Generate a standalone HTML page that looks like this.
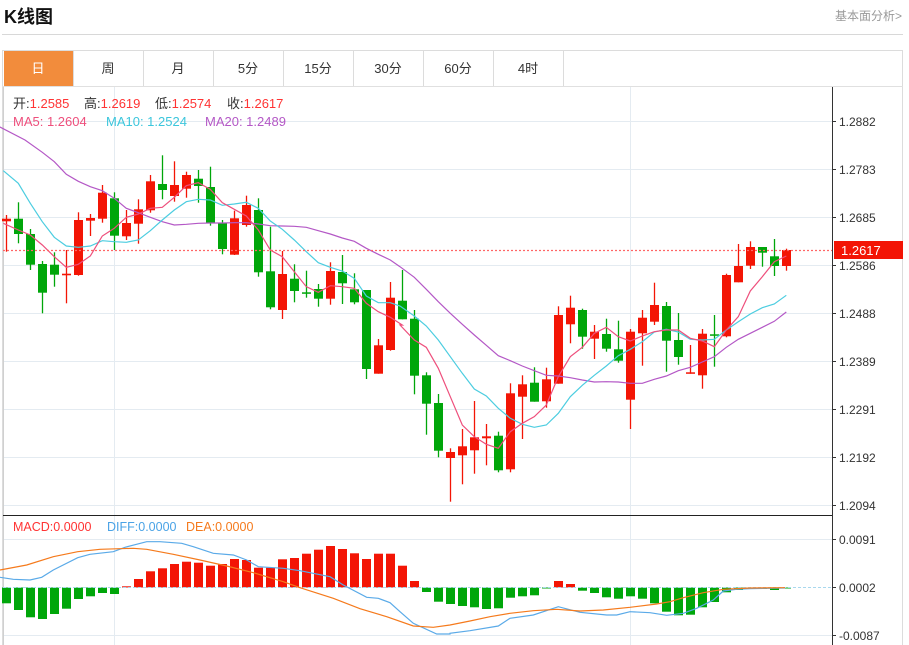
<!DOCTYPE html>
<html><head><meta charset="utf-8">
<style>
body{margin:0;background:#fff;width:909px;height:645px;overflow:hidden;font-family:"Liberation Sans","Noto Sans CJK SC",sans-serif;}
.t{position:absolute;white-space:nowrap}
</style></head><body>
<div class="t" style="left:4px;top:3px;font-size:18px;font-weight:bold;color:#111">K线图</div>
<div class="t" style="left:835px;top:7px;font-size:12px;color:#999">基本面分析&gt;</div>
<div style="position:absolute;left:2px;top:34px;width:901px;height:1px;background:#d8d8d8"></div>
<svg id="s" width="909" height="645" style="position:absolute;left:0;top:0" xmlns="http://www.w3.org/2000/svg" font-family="Liberation Sans, Noto Sans CJK SC, sans-serif"></svg>
<script>
var s=document.getElementById('s'),h='';
function L(x1,y1,x2,y2,c,w,d){h+='<line x1="'+x1+'" y1="'+y1+'" x2="'+x2+'" y2="'+y2+'" stroke="'+c+'" stroke-width="'+(w||1)+'"'+(d?' stroke-dasharray="'+d+'"':'')+'/>';}
function R(x,y,w,hh,c){h+='<rect x="'+x+'" y="'+y+'" width="'+w+'" height="'+hh+'" fill="'+c+'"/>';}
function T(x,y,t,c,sz,a){h+='<text x="'+x+'" y="'+y+'" fill="'+c+'" font-size="'+(sz||13)+'"'+(a?' text-anchor="'+a+'"':'')+'>'+t+'</text>';}
// panel border
h+='<rect x="2.5" y="50.5" width="900" height="600" fill="none" stroke="#dcdcdc"/>';
// tabs
var tabs=['日','周','月','5分','15分','30分','60分','4时'];
L(2,86.5,903,86.5,'#e0e0e0');
for(var i=0;i<8;i++){var x=3+70*i;if(i==0)R(4,51,69,35,'#f28c3c');L(x+70.5,50,x+70.5,86,'#dcdcdc');T(x+35,73,tabs[i],i==0?'#fff':'#333',13,'middle');}
// grid
var gy=[121,169,217,265,313,361,409,457,505];
gy.forEach(function(y){L(3,y+.5,832,y+.5,'#e4ebf1');});
[539,635].forEach(function(y){L(3,y+.5,832,y+.5,'#e4ebf1');});
L(114.5,87,114.5,645,'#e4ebf1');L(630.5,87,630.5,645,'#e4ebf1');
L(3.5,87,3.5,645,'#d0d0d0');
// axes
L(832.5,87,832.5,645,'#333');L(3,515.5,832,515.5,'#222');
var gl=['1.2882','1.2783','1.2685','1.2586','1.2488','1.2389','1.2291','1.2192','1.2094'];
gy.forEach(function(y,i){L(832,y+.5,836,y+.5,'#333');T(839,y+5,gl[i],'#333',12);});
[[539,'0.0091'],[587,'0.0002'],[635,'-0.0087']].forEach(function(a){L(832,a[0]+.5,836,a[0]+.5,'#333');T(839,a[0]+5,a[1],'#333',12);});
// candles [color, bodyTop, bodyBot, wickTop, wickBot]
var C=[['r',218.7,221.3,215,251.7],['g',218.7,234,202.3,243.3],['g',234,264.7,229,270],['g',264,292.7,261,313.3],['g',264.7,274.7,252.3,286.7],['r',273.7,275.3,250,303.3],['r',220,275,212.3,275.7],['r',218,220.7,214,236],['r',192.7,218.7,185,222.7],['g',198.3,235.7,192.3,250],['r',223,236.3,210,240],['r',209.3,223.7,199.3,243.7],['r',181.3,210.3,175,212.7],['g',184,190,155.3,199.3],['r',185,196,161.3,201.7],['r',175,188.7,171.7,197.7],['g',178.7,186,170,202.7],['g',187,223,166.7,225.7],['g',223,249,220,254.3],['r',218.3,254.7,210.7,255],['r',205,225,195.7,226.7],['g',210,272.3,198.3,276.7],['g',271.3,307.3,226.7,309.3],['r',274,310,251,319],['g',278.7,291,264.3,302.3],['g',292.3,293.3,270.7,297.7],['g',289,298.7,284,306.7],['r',271,298.7,262.3,304.7],['g',272,283.3,255,304],['g',289.3,302.3,273.3,304.3],['g',290,369,290,379],['r',345.3,373.7,339,373.7],['r',297.7,350,282,350.7],['g',300.7,319.3,270,319.3],['g',318.7,375.7,310,394.3],['g',375.3,403.7,372.3,434.7],['g',403,450.7,394,457.3],['r',452,458,448.3,501.7],['r',446.3,455.3,429,484.3],['r',437.3,450.3,401,473.7],['r',436.3,438.3,424,465.3],['g',435.7,470.3,431.7,472.3],['r',393.3,469.3,383.3,472.3],['r',384.3,396.7,375.3,439],['g',382.7,401.7,367.3,401.7],['r',379.3,401.3,367.7,407.7],['r',315,383.7,306.3,383.7],['r',307.7,324.3,295.7,343.3],['g',310,336.7,308.7,348.7],['r',331.7,338.7,325,359],['g',334,348.7,318.7,351.7],['g',349.3,360.7,320.7,362.7],['r',331.7,399.7,329,429],['r',317.7,333.3,310,365.7],['r',305,321.7,282.7,325],['g',306,340.7,302,371.7],['g',340,357,313,364.7],['r',372.3,373.7,345,373.7],['r',333.7,375.3,329,388.7],['g',334.3,335.7,315,366.7],['r',275,336.3,273.7,337.3],['r',266,282.3,244,282.3],['r',247,265.7,241.3,269],['g',247,252.7,247,266.7],['g',256.3,266,239,276],['r',250,266,248.7,270.7]];
var RED='#f31505',GRN='#00a60a';
C.forEach(function(c,i){var x=6.5+12*i,col=c[0]=='r'?RED:GRN;L(x,c[3],x,c[4],col,1.3);R(x-4.5,c[1],9,Math.max(c[2]-c[1],1.5),col);});
// MA lines: zoom coords converted
function pts(a,ox,oy){return a.map(function(p){return (ox+p[0]/3).toFixed(1)+','+(oy+p[1]/3).toFixed(1);}).join(' ');}
function PL(p,c){h+='<polyline points="'+p+'" fill="none" stroke="'+c+'" stroke-width="1.2"/>';}
var m5a=[[10,250],[55,270],[91,285],[127,315],[163,350],[199,382],[235,373],[271,348],[307,288],[343,265],[379,232],[415,222],[451,205],[487,202],[523,172],[559,137],[595,128],[631,148],[667,188],[703,208],[739,228],[775,270],[811,330],[847,350],[883,395],[919,440],[955,457],[991,437],[1027,440],[1063,445],[1099,490],[1135,515],[1171,532],[1207,555]];
var m5b=[[0,285],[43,330],[79,352],[115,415],[151,500],[187,585],[223,620],[259,643],[295,655],[331,605],[367,580],[403,560],[439,525],[475,440],[511,380],[547,352],[583,310],[619,292],[655,320],[691,333],[727,318],[763,305],[799,300],[835,300],[871,325],[907,333],[943,350],[979,300],[1015,260],[1051,183],[1087,140],[1123,95],[1159,78]];
var m10a=[[10,92],[55,130],[91,190],[127,245],[163,292],[199,318],[235,322],[271,318],[307,302],[343,305],[379,307],[415,300],[451,272],[487,240],[523,210],[559,185],[595,178],[631,180],[667,196],[703,192],[739,187],[775,205],[811,243],[847,268],[883,300],[919,335],[955,368],[991,382],[1027,393],[1063,415],[1099,468],[1135,488],[1171,488]];
var m10b=[[0,228],[43,258],[79,288],[115,330],[151,380],[187,430],[223,477],[259,498],[295,535],[331,565],[367,583],[403,592],[439,585],[475,550],[511,500],[547,466],[583,436],[619,408],[655,377],[691,358],[727,335],[763,306],[799,298],[835,306],[871,328],[907,330],[943,328],[979,300],[1015,275],[1051,252],[1087,233],[1123,222],[1159,196]];
var m20a=[[-6,-42],[75,0],[127,37],[163,65],[199,103],[235,124],[271,140],[307,152],[343,175],[379,205],[415,218],[451,232],[487,245],[523,255],[559,253],[595,250],[631,249],[667,249],[703,248],[739,248],[775,252],[811,257],[847,258],[883,259],[919,262],[955,272],[991,282],[1027,294],[1063,304],[1099,325],[1135,343],[1171,360]];
var m20b=[[0,110],[43,142],[79,178],[115,215],[151,250],[187,283],[223,315],[259,346],[295,377],[331,392],[367,408],[403,422],[439,436],[475,438],[511,443],[547,450],[583,456],[619,455],[655,456],[691,460],[727,460],[763,448],[799,438],[835,422],[871,412],[907,396],[943,380],[979,352],[1015,328],[1051,310],[1087,292],[1123,274],[1159,246]];
PL(pts(m20a,0,140)+' '+pts(m20b,400,230),'#b458c6');
PL(pts(m10a,0,140)+' '+pts(m10b,400,230),'#4ccde0');
PL(pts(m5a,0,140)+' '+pts(m5b,400,230),'#ee4f7c');
// current price
L(3,250.5,832,250.5,'#f66',1.2,'2,2');
R(834,241,69,18,RED);T(841,255,'1.2617','#fff',13);
// MACD
var M=[603.3,610,617.3,619,614,608.7,599,596.3,593,594,586.3,579,571.3,568.3,564,561.7,562.7,565.7,564,559,560,567.7,567.7,559.3,558,553.7,549.7,546,549,553.3,559,553.7,553.7,565.7,581,592,601.7,604,606,607.3,609,608.3,597.7,596.3,595.3,588.5,581,584,590.7,593,597.3,598.7,596.3,598.7,603.3,611.7,615.3,614.7,607.3,602,592.3,590,588.7,589,590,588.5];
var Z=587.5;
M.forEach(function(v,i){var x=6.5+12*i;if(v<Z)R(x-4.5,v,9,Z-v,RED);else R(x-4.5,Z,9,v-Z,GRN);});
L(3,587.5,832,587.5,'#a8d8ee',1,'3,2');
var difA=[[0,202],[40,208],[90,210],[125,202],[160,180],[233,143],[270,133],[340,125],[375,112],[440,95],[480,95],[545,100],[580,110],[640,130],[700,135],[740,150],[775,170],[850,175],[900,182],[990,200],[1030,225],[1100,262],[1135,265],[1170,278],[1200,305],[1240,340],[1310,372],[1350,372]];
var difB=[[0,370],[60,362],[145,348],[180,325],[250,315],[325,290],[390,307],[470,315],[500,315],[540,305],[600,308],[650,316],[700,310],[740,295],[790,270],[820,243],[860,238],[900,236],[1005,234]];
var deaA=[[0,180],[80,165],[160,140],[233,125],[300,118],[400,115],[440,118],[520,133],[600,150],[680,168],[760,188],[850,215],[900,233],[1000,265],[1080,296],[1160,320],[1240,348],[1300,352],[1350,345]];
var deaB=[[0,345],[60,333],[120,320],[180,310],[250,302],[320,298],[390,303],[460,300],[540,292],[620,282],[660,275],[700,263],[760,248],[820,238],[900,234],[1005,233]];
PL(pts(difA,0,510)+' '+pts(difB,450,510),'#5aaae8');
PL(pts(deaA,0,510)+' '+pts(deaB,450,510),'#f57a1c');
// labels
h+='<text y="108" font-size="13"><tspan x="13" fill="#333">开:</tspan><tspan fill="#f33">1.2585</tspan><tspan x="84" fill="#333">高:</tspan><tspan fill="#f33">1.2619</tspan><tspan x="155" fill="#333">低:</tspan><tspan fill="#f33">1.2574</tspan><tspan x="227" fill="#333">收:</tspan><tspan fill="#f33">1.2617</tspan></text>';
T(13,126,'MA5: 1.2604','#ee4f7c');T(106,126,'MA10: 1.2524','#3cc6dc');T(205,126,'MA20: 1.2489','#b458c6');
T(13,531,'MACD:0.0000','#f33',12.5);T(107,531,'DIFF:0.0000','#4aa3e6',12.5);T(186,531,'DEA:0.0000','#f57a1c',12.5);
s.innerHTML=h;
</script>
</body></html>
